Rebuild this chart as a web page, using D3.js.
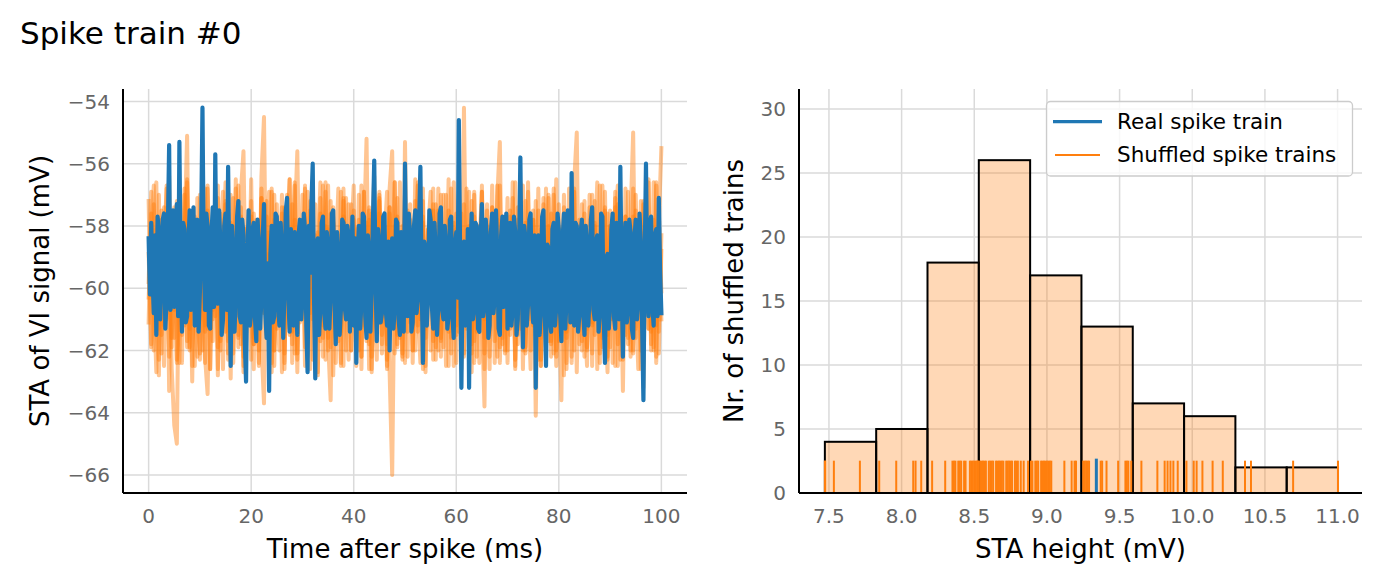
<!DOCTYPE html>
<html><head><meta charset="utf-8">
<script src="https://cdn.jsdelivr.net/npm/d3@7"></script>
<style>body{margin:0;background:#fff} svg{display:block} text{font-family:"DejaVu Sans",sans-serif}</style>
</head><body><svg id="c" width="1382" height="583"></svg>
<script>
// ---------------- data ----------------
const chartTitle = "Spike train #0";
const realStepMs = 0.25;
const shuffledStepMs = 0.5;
const realSTA = [
-58.4,-60.2,-57.9,-59.6,-60.8,-58.3,-61.5,-57.7,-58.2,-61.0,-59.9,-57.8,-57.6,-61.3,-60.4,-58.1,-55.4,-60.7,-59.8,-57.5,
-60.6,-58.2,-57.3,-60.9,-55.3,-59.4,-61.4,-57.9,-58.1,-61.1,-60.9,-58.6,-57.5,-60.7,-59.3,-57.4,-61.2,-58.8,-57.8,-61.4,
-60.1,-57.9,-54.2,-59.0,-60.7,-57.6,-58.0,-61.2,-61.3,-58.3,-57.4,-60.6,-55.7,-59.8,-60.5,-57.5,-58.6,-61.5,-61.0,-58.0,
-57.6,-60.7,-56.1,-59.5,-62.5,-58.0,-58.9,-61.4,-60.2,-57.7,-57.2,-60.9,-61.1,-57.8,-58.3,-61.7,-63.0,-59.1,-57.5,-61.2,
-60.8,-58.1,-57.9,-61.0,-61.7,-57.8,-58.6,-61.3,-60.3,-58.4,-57.3,-60.8,-61.6,-59.2,-63.3,-58.9,-58.0,-61.1,-60.9,-57.6,
-57.7,-60.5,-61.2,-57.9,-58.8,-61.6,-60.0,-57.5,-57.1,-60.3,-61.4,-58.1,-59.0,-61.2,-58.2,-60.6,-61.5,-58.3,-57.8,-61.0,
-60.4,-57.6,-58.1,-61.2,-62.7,-58.0,-59.5,-57.3,-56.0,-60.2,-62.9,-58.6,-58.4,-61.5,-60.6,-57.9,-57.7,-60.8,-61.3,-58.2,
-58.6,-61.3,-60.2,-57.6,-57.5,-60.4,-61.8,-58.2,-58.9,-61.5,-60.7,-57.8,-57.9,-60.6,-61.0,-58.0,-58.3,-61.4,-59.6,-57.7,
-61.2,-58.4,-62.4,-59.1,-58.0,-61.3,-60.5,-57.6,-57.7,-60.9,-61.6,-58.3,-58.8,-61.4,-60.1,-57.8,-55.9,-59.7,-61.7,-58.1,
-58.5,-61.1,-60.8,-57.7,-57.6,-60.7,-61.2,-58.5,-62.0,-59.6,-58.4,-61.3,-60.6,-57.8,-57.9,-61.0,-61.5,-58.2,-59.0,-61.4,
-56.0,-59.3,-60.9,-57.6,-58.3,-61.4,-61.1,-58.0,-57.5,-60.8,-60.4,-57.9,-56.1,-59.8,-62.4,-58.5,-58.7,-61.2,-60.2,-57.5,
-57.8,-60.6,-61.3,-57.9,-58.9,-61.5,-60.5,-57.6,-57.4,-60.7,-61.0,-58.0,-58.6,-61.3,-60.9,-57.8,-57.7,-60.9,-61.6,-58.6,
-58.2,-60.3,-54.6,-58.9,-63.2,-59.4,-58.5,-61.2,-60.9,-58.1,-63.2,-59.0,-57.6,-61.0,-60.7,-57.9,-58.0,-61.3,-61.4,-58.4,
-57.3,-60.9,-60.6,-57.8,-58.5,-61.6,-61.2,-58.2,-57.6,-60.8,-60.3,-57.5,-58.9,-61.3,-61.5,-58.3,-57.7,-60.6,-60.0,-57.6,
-61.3,-58.6,-57.9,-61.2,-60.7,-57.7,-58.2,-61.5,-61.0,-58.8,-55.8,-59.6,-61.9,-58.0,-58.4,-61.2,-60.5,-57.8,-57.6,-60.4,
-61.1,-58.3,-63.2,-59.3,-58.3,-61.5,-60.8,-57.7,-57.5,-60.6,-62.5,-58.6,-58.7,-61.0,-61.4,-58.1,-57.9,-61.2,-60.6,-57.6,
-58.1,-60.8,-61.7,-58.4,-57.6,-61.3,-60.4,-57.5,-58.8,-61.1,-56.3,-59.8,-61.2,-57.9,-58.0,-61.4,-60.9,-58.2,-57.8,-60.7,
-61.5,-58.0,-58.6,-61.2,-60.2,-57.8,-57.4,-60.7,-61.0,-58.5,-58.3,-61.4,-60.8,-57.6,-57.7,-60.9,-62.4,-59.0,-58.9,-61.3,
-60.5,-58.1,-57.6,-60.9,-61.3,-57.9,-58.4,-61.0,-56.1,-59.7,-62.2,-58.6,-57.9,-61.1,-60.7,-57.8,-58.2,-61.3,-61.6,-58.4,
-57.8,-61.0,-60.4,-57.6,-58.6,-61.2,-63.6,-59.0,-56.0,-59.9,-60.9,-57.9,-57.7,-60.6,-61.2,-58.3,-58.1,-60.9,-57.1,-59.4,
-60.8];
const shuffledSTA_A = [
-57.2,-61.8,-58.5,-56.6,-62.3,-59.1,-57.4,-61.0,-58.8,-62.6,
-64.4,-65.0,-57.9,-61.5,-58.3,-55.1,-61.9,-57.6,-60.7,-62.2,
-57.0,-60.3,-62.4,-56.8,-59.6,-61.7,-57.3,-62.8,-58.4,-56.9,
-61.4,-58.0,-62.9,-57.1,-60.5,-56.7,-61.8,-58.6,-62.1,-57.5,
-60.9,-62.6,-57.8,-61.2,-56.4,-54.5,-61.5,-58.2,-62.7,-57.0,
-60.6,-62.0,-57.4,-61.3,-58.7,-56.5,-62.4,-57.9,-55.6,-61.1,
-58.2,-62.5,-56.9,-60.8,-57.5,-61.9,-58.9,-56.6,-62.2,-58.0,
-61.6,-57.2,-62.8,-59.0,-56.8,-61.4,-57.7,-60.2,-62.3,-57.3,
-60.7,-58.1,-62.0,-56.7,-61.2,-57.9,-62.6,-58.5,-56.4,-61.0,
-57.6,-62.1,-58.4,-56.9,-62.7,-66.0,-58.8,-57.1,-61.6,-59.3,
-57.0,-62.2,-58.6,-61.0,-56.5,-60.6,-62.4,-57.7,-61.3,-58.1,
-62.0,-57.3,-60.4,-56.8,-61.7,-58.9,-62.5,-57.5,-60.8,-56.6,
-61.5,-57.8,-62.3,-54.2,-60.9,-58.0,-62.1,-57.0,-61.4,-58.6,
-56.9,-62.6,-58.3,-61.0,-57.4,-60.5,-62.2,-56.7,-61.6,-58.0,
-62.4,-57.5,-60.9,-56.6,-61.8,-58.7,-62.0,-57.2,-60.3,-62.6,
-57.8,-61.1,-56.8,-62.5,-58.4,-60.7,-57.1,-62.2,-59.0,-56.5,
-61.7,-58.1,-62.8,-57.6,-60.6,-56.9,-62.0,-58.5,-61.3,-57.3,
-60.8,-62.5,-57.0,-61.2,-58.8,-56.6,-62.1,-57.8,-60.4,-62.7,
-57.5,-61.0,-58.2,-56.7,-62.3,-57.9,-61.5,-58.6,-62.0,-56.8,
-61.3,-58.0,-62.6,-57.2,-60.7,-56.5,-61.8,-58.4,-62.2,-57.6,
-60.1];
const shuffledSTA_B = [
-59.8,-56.9,-62.0,-58.1,-61.3,-57.5,-62.5,-58.7,-56.4,-61.6,
-58.2,-62.3,-57.0,-60.6,-56.8,-61.9,-58.5,-63.0,-57.7,-60.9,
-62.1,-57.4,-61.2,-56.7,-62.6,-58.3,-60.4,-57.1,-62.0,-58.8,
-56.6,-61.7,-57.9,-62.4,-58.2,-60.8,-56.9,-55.6,-61.5,-58.0,
-62.3,-57.6,-60.7,-58.9,-61.8,-63.7,-57.2,-61.1,-56.8,-62.5,
-58.4,-60.2,-57.0,-62.1,-58.6,-56.5,-61.4,-57.8,-62.7,-58.1,
-60.6,-56.7,-62.2,-57.5,-61.0,-58.3,-62.8,-57.1,-60.3,-56.9,
-61.7,-63.6,-57.9,-61.2,-58.5,-62.4,-56.8,-60.9,-57.3,-62.0,
-58.7,-61.5,-57.0,-62.6,-58.2,-55.2,-61.8,-57.6,-60.5,-62.3,
-56.9,-61.1,-58.0,-62.5,-57.4,-60.8,-56.6,-61.9,-58.4,-62.2,
-55.3,-61.4,-57.8,-62.0,-58.6,-56.7,-61.0,-57.2,-62.7,-58.9,
-60.2,-56.8,-62.3,-57.5,-61.6,-58.1,-60.7,-56.5,-62.1,-58.3,
-61.2,-57.0,-62.6,-58.5,-60.4,-56.9,-61.8,-57.7,-62.2,-58.0,
-60.9,-63.8,-57.3,-61.5,-58.6,-62.4,-56.7,-60.6,-57.9,-62.0,
-58.2,-61.3,-56.6,-62.5,-57.8,-60.8,-58.4,-62.1,-56.9,-61.0,
-57.5,-64.1,-58.7,-61.6,-57.1,-62.3,-58.0,-60.5,-56.8,-62.0,
-58.5,-61.2,-57.4,-62.6,-58.1,-60.7,-56.6,-55.0,-61.8,-57.9,
-62.2,-58.3,-60.9,-57.0,-61.5,-58.8,-62.4,-56.7,-60.6,-57.6,
-61.9,-58.1,-62.5,-57.3,-60.8,-58.6,-61.1,-56.9,-62.2,-57.7,
-60.3,-62.6,-57.2,-61.4,-58.4,-56.6,-62.0,-57.8,-61.2,-58.2,
-61.0];
const shuffledSTA_C = [
-61.1,-57.6,-60.2,-62.7,-57.0,-61.5,-58.6,-56.8,-62.2,-58.3,
-60.7,-57.2,-62.4,-58.0,-61.2,-56.6,-62.0,-57.8,-60.5,-58.5,
-62.3,-56.9,-61.4,-57.5,-62.6,-58.2,-60.9,-56.7,-61.7,-58.7,
-57.3,-62.1,-58.4,-60.6,-56.8,-61.9,-57.7,-62.5,-58.1,-60.3,
-56.5,-61.6,-58.9,-62.0,-57.1,-60.8,-58.3,-56.9,-62.4,-57.8,
-61.3,-58.0,-62.7,-57.4,-60.5,-58.6,-61.8,-56.7,-62.1,-57.9,
-60.6,-56.8,-61.5,-58.2,-62.3,-57.3,-60.9,-58.5,-61.2,-56.6,
-62.0,-57.6,-60.4,-58.8,-61.7,-56.9,-62.5,-57.1,-61.0,-58.4,
-56.7,-61.9,-57.8,-62.2,-58.1,-60.7,-57.4,-62.6,-58.6,-61.3,
-57.2,-60.9,-58.3,-61.8,-56.8,-55.6,-62.1,-57.7,-60.5,-58.0,
-62.4,-57.5,-61.1,-58.9,-62.0,-56.6,-60.8,-57.9,-61.6,-58.2,
-56.9,-62.3,-57.3,-60.6,-58.5,-61.9,-57.0,-62.5,-58.1,-60.2,
-57.6,-61.4,-58.7,-62.1,-56.8,-60.9,-57.8,-61.7,-58.3,-62.4,
-56.7,-61.0,-57.5,-62.2,-58.6,-60.5,-57.1,-55.3,-61.8,-58.0,
-62.0,-57.7,-60.7,-58.4,-61.5,-56.6,-62.6,-57.9,-60.3,-58.8,
-61.2,-57.2,-62.3,-58.1,-60.9,-56.8,-61.7,-57.6,-62.1,-58.5,
-60.4,-63.6,-57.0,-61.6,-58.3,-62.4,-56.9,-60.8,-57.8,-62.0,
-58.6,-61.3,-57.4,-62.5,-58.0,-60.6,-56.7,-61.9,-57.5,-62.2,
-58.9,-60.5,-57.1,-61.8,-58.4,-62.3,-56.8,-61.0,-57.7,-55.0,
-61.6,-58.2,-62.0,-57.3,-60.7,-58.5,-61.4,-56.6,-62.4,-57.9,
-55.5];
const shuffledSTA_D = [
-58.9,-61.9,-57.3,-60.4,-62.8,-57.8,-61.2,-56.7,-63.3,-58.2,
-61.6,-57.5,-60.9,-62.4,-58.0,-56.5,-61.3,-58.7,-62.5,-57.1,
-60.6,-57.9,-62.2,-63.4,-58.4,-61.0,-56.9,-61.9,-57.6,-62.6,
-58.3,-60.8,-57.0,-62.1,-58.6,-61.5,-57.4,-62.7,-58.1,-60.3,
-57.2,-61.8,-58.5,-62.4,-56.8,-60.7,-57.7,-61.4,-58.8,-62.0,
-57.3,-60.9,-58.2,-62.6,-57.0,-61.3,-58.6,-56.6,-62.3,-57.8,
-61.0,-58.4,-62.1,-57.2,-60.5,-58.9,-62.7,-57.6,-61.6,-58.0,
-56.7,-61.9,-57.9,-62.4,-58.3,-60.6,-57.1,-62.0,-58.7,-61.2,
-57.5,-62.5,-58.1,-60.8,-56.9,-61.7,-57.8,-62.2,-58.5,-60.4,
-57.0,-61.5,-58.8,-62.6,-57.4,-60.9,-56.6,-61.8,-58.2,-62.3,
-57.7,-60.7,-58.4,-62.0,-57.2,-61.4,-58.9,-56.8,-62.5,-58.1,
-60.5,-57.5,-61.9,-58.6,-62.2,-57.0,-60.8,-58.3,-61.6,-57.9,
-62.4,-58.0,-60.6,-57.3,-61.3,-58.7,-62.7,-56.9,-61.0,-58.5,
-57.6,-62.1,-58.2,-60.9,-56.7,-61.7,-57.8,-62.4,-58.8,-60.3,
-57.1,-61.5,-58.4,-62.6,-57.4,-60.7,-58.0,-61.9,-56.6,-62.0,
-58.6,-60.5,-57.5,-62.3,-58.1,-61.2,-57.0,-61.8,-58.9,-62.5,
-57.3,-60.8,-58.5,-61.4,-56.8,-62.2,-57.9,-60.6,-58.2,-61.7,
-57.6,-62.0,-58.7,-61.1,-57.2,-62.6,-58.3,-60.9,-56.9,-61.5,
-58.0,-62.4,-57.4,-61.0,-58.6,-63.3,-57.7,-61.6,-58.1,-62.1,
-57.0,-60.7,-58.8,-63.2,-57.5,-61.3,-58.4,-62.0,-56.7,-61.4,
-58.3];
const shuffledSTA_E = [
-60.3,-58.6,-56.7,-61.4,-58.0,-62.1,-57.6,-60.8,-58.9,-61.9,
-57.4,-62.4,-58.3,-60.6,-57.0,-61.7,-58.8,-62.5,-57.8,-61.0,
-58.5,-62.0,-56.8,-61.3,-58.1,-60.7,-57.5,-62.6,-58.7,-61.1,
-57.2,-62.3,-58.4,-60.9,-56.5,-61.6,-57.9,-62.2,-58.6,-60.5,
-57.7,-61.8,-58.2,-62.5,-57.1,-60.8,-58.9,-61.2,-56.9,-62.0,
-58.3,-60.6,-57.6,-62.4,-58.0,-61.5,-57.3,-62.1,-58.8,-60.9,
-57.0,-61.9,-58.5,-62.6,-57.7,-60.4,-58.2,-61.7,-56.7,-62.3,
-58.1,-60.7,-57.4,-61.6,-58.9,-62.5,-57.2,-61.0,-58.4,-62.0,
-57.8,-60.5,-58.6,-62.2,-56.9,-61.4,-57.5,-62.7,-58.3,-60.9,
-57.1,-61.8,-58.7,-62.3,-57.6,-60.6,-58.0,-61.5,-56.6,-62.1,
-58.4,-60.8,-57.3,-62.4,-58.2,-61.2,-57.9,-62.6,-58.6,-60.4,
-57.5,-61.7,-58.8,-62.0,-57.0,-60.9,-58.3,-61.4,-56.8,-62.5,
-58.1,-60.6,-57.6,-62.2,-58.7,-61.0,-57.2,-62.4,-58.5,-60.7,
-56.9,-61.6,-58.0,-62.6,-57.4,-60.5,-58.9,-61.9,-57.7,-62.1,
-58.3,-60.8,-57.1,-62.3,-58.6,-61.3,-56.7,-62.0,-58.2,-60.6,
-57.8,-61.5,-58.4,-62.5,-57.3,-60.9,-58.8,-61.7,-57.0,-62.2,
-58.5,-60.4,-57.6,-62.4,-58.1,-61.1,-56.8,-62.7,-58.7,-60.7,
-57.2,-61.9,-58.3,-62.1,-57.9,-60.5,-58.6,-61.6,-57.4,-62.3,
-58.0,-61.0,-56.9,-62.5,-58.4,-60.8,-57.7,-61.8,-58.9,-62.0,
-57.5,-60.6,-58.2,-62.4,-57.1,-61.3,-58.6,-61.9,-56.6,-62.1,
-58.8];
const shuffledSeries = [shuffledSTA_A, shuffledSTA_B, shuffledSTA_C, shuffledSTA_D, shuffledSTA_E];
const leftXTicks = [0, 20, 40, 60, 80, 100];
const leftYTicks = [-54, -56, -58, -60, -62, -64, -66];

const shuffledHeights = [
7.472,7.474,7.534,7.713,
7.846,7.963,8.080,8.096,8.135,
8.21,8.30,8.35,8.36,8.37,8.39,8.40,8.41,8.43,8.44,8.47,8.48,8.49,8.50,8.51,8.52,8.525,8.528,
8.54,8.55,8.56,8.57,8.58,8.60,8.61,8.62,8.63,8.65,8.66,8.67,8.68,8.69,8.70,8.72,8.73,8.74,8.75,8.76,8.78,8.79,8.80,8.82,8.84,8.87,
8.89,8.90,8.92,8.93,8.94,8.96,8.97,8.98,8.99,9.00,9.01,9.02,9.03,9.12,9.17,9.19,9.20,
9.25,9.26,9.27,9.28,9.29,9.37,9.38,9.41,9.49,9.54,9.55,9.56,9.58,
9.65,9.76,9.81,9.83,9.85,9.87,9.90,
9.96,10.01,10.03,10.07,10.14,10.21,
10.363,10.404,
10.694,11.003];
const realHeight = 9.34;
const histBinCount = 10;
const rightXTicks = [7.5, 8.0, 8.5, 9.0, 9.5, 10.0, 10.5, 11.0];
const rightYTicks = [0, 5, 10, 15, 20, 25, 30];
const legendLabels = ["Real spike train", "Shuffled spike trains"];

// ---------------- drawing ----------------
const BLUE = "#1f77b4", ORANGE = "#ff7f0e", GRID = "#dadada", TICK = "#666666";
const svg = d3.select("#c");

svg.append("text").attr("x", 20).attr("y", 44).attr("font-size", 31).attr("fill", "#000").text(chartTitle);

function grid(g, x, y, xt, yt, x0, x1, y0, y1) {
  g.append("g").selectAll("line").data(xt).join("line")
    .attr("x1", d => x(d)).attr("x2", d => x(d)).attr("y1", y0).attr("y2", y1)
    .attr("stroke", GRID).attr("stroke-width", 1.5);
  g.append("g").selectAll("line").data(yt).join("line")
    .attr("x1", x0).attr("x2", x1).attr("y1", d => y(d)).attr("y2", d => y(d))
    .attr("stroke", GRID).attr("stroke-width", 1.5);
}
function spinesAndLabels(g, x, y, xt, yt, xfmt, yfmt, x0, x1, y0, y1, xLabel, yLabel, yLabelX) {
  g.append("line").attr("x1", x0).attr("x2", x0).attr("y1", y0).attr("y2", y1).attr("stroke", "#000").attr("stroke-width", 2);
  g.append("line").attr("x1", x0).attr("x2", x1).attr("y1", y1).attr("y2", y1).attr("stroke", "#000").attr("stroke-width", 2);
  g.append("g").selectAll("text").data(xt).join("text")
    .attr("x", d => x(d)).attr("y", 523).attr("text-anchor", "middle").attr("font-size", 20).attr("fill", TICK)
    .text(d => xfmt(d));
  g.append("g").selectAll("text").data(yt).join("text")
    .attr("x", x0 - 13).attr("y", d => y(d)).attr("dy", "0.36em").attr("text-anchor", "end").attr("font-size", 20).attr("fill", TICK)
    .text(d => yfmt(d));
  g.append("text").attr("x", (x0 + x1) / 2).attr("y", 558).attr("text-anchor", "middle").attr("font-size", 26).attr("fill", "#000").text(xLabel);
  g.append("text").attr("transform", `translate(${yLabelX},${(y0 + y1) / 2}) rotate(-90)`)
    .attr("text-anchor", "middle").attr("font-size", 26).attr("fill", "#000").text(yLabel);
}

// Left panel
const L = {x0: 123, x1: 687, y0: 89, y1: 493};
const xL = d3.scaleLinear().domain([-5, 105]).range([L.x0, L.x1]);
const yL = d3.scaleLinear().domain([-66.58, -53.6]).range([L.y1, L.y0]);
const gL = svg.append("g");
grid(gL, xL, yL, leftXTicks, leftYTicks, L.x0, L.x1, L.y0, L.y1);
const lineShuf = d3.line().x((d, i) => xL(i * shuffledStepMs)).y(d => yL(d));
const lineReal = d3.line().x((d, i) => xL(i * realStepMs)).y(d => yL(d));
gL.append("g").selectAll("path").data(shuffledSeries).join("path")
  .attr("d", lineShuf).attr("fill", "none").attr("stroke", ORANGE).attr("stroke-width", 4)
  .attr("stroke-linejoin", "round").attr("stroke-linecap", "square").attr("opacity", 0.45);
gL.append("path").attr("d", lineReal(realSTA)).attr("fill", "none").attr("stroke", BLUE)
  .attr("stroke-width", 4.2).attr("stroke-linejoin", "round").attr("stroke-linecap", "square");
spinesAndLabels(gL, xL, yL, leftXTicks, leftYTicks, d3.format("d"), d3.format("d"),
  L.x0, L.x1, L.y0, L.y1, "Time after spike (ms)", "STA of VI signal (mV)", 49);

// Right panel
const R = {x0: 799, x1: 1362, y0: 89, y1: 493};
const xR = d3.scaleLinear().domain([7.294, 11.168]).range([R.x0, R.x1]);
const yR = d3.scaleLinear().domain([0, 31.56]).range([R.y1, R.y0]);
const gR = svg.append("g");
grid(gR, xR, yR, rightXTicks, rightYTicks, R.x0, R.x1, R.y0, R.y1);
const ext = d3.extent(shuffledHeights);
const bw = (ext[1] - ext[0]) / histBinCount;
const thresholds = d3.range(1, histBinCount).map(k => ext[0] + k * bw);
const bins = d3.bin().domain(ext).thresholds(thresholds)(shuffledHeights);
gR.append("g").selectAll("rect").data(bins).join("rect")
  .attr("x", d => xR(d.x0)).attr("width", d => xR(d.x1) - xR(d.x0))
  .attr("y", d => yR(d.length)).attr("height", d => yR(0) - yR(d.length))
  .attr("fill", ORANGE).attr("fill-opacity", 0.3).attr("stroke", "#000").attr("stroke-width", 2);
const rugFrac = 0.08;
gR.append("g").selectAll("line").data(shuffledHeights).join("line")
  .attr("x1", d => xR(d)).attr("x2", d => xR(d)).attr("y1", R.y1).attr("y2", R.y1 - rugFrac * (R.y1 - R.y0))
  .attr("stroke", ORANGE).attr("stroke-width", 2);
gR.append("line").attr("x1", xR(realHeight)).attr("x2", xR(realHeight)).attr("y1", R.y1)
  .attr("y2", R.y1 - 0.085 * (R.y1 - R.y0)).attr("stroke", BLUE).attr("stroke-width", 3);
spinesAndLabels(gR, xR, yR, rightXTicks, rightYTicks, d3.format(".1f"), d3.format("d"),
  R.x0, R.x1, R.y0, R.y1, "STA height (mV)", "Nr. of shuffled trains", 743);

// Legend
const lg = svg.append("g");
lg.append("rect").attr("x", 1046.5).attr("y", 101.5).attr("width", 306).attr("height", 74.5).attr("rx", 4)
  .attr("fill", "#fff").attr("fill-opacity", 0.8).attr("stroke", "#cccccc").attr("stroke-width", 1.3);
lg.append("line").attr("x1", 1053).attr("x2", 1102).attr("y1", 121.7).attr("y2", 121.7).attr("stroke", BLUE).attr("stroke-width", 3.3);
lg.append("line").attr("x1", 1055).attr("x2", 1100).attr("y1", 155).attr("y2", 155).attr("stroke", ORANGE).attr("stroke-width", 1.8);
lg.selectAll("text").data(legendLabels).join("text")
  .attr("x", 1117).attr("y", (d, i) => i === 0 ? 129.3 : 162.3).attr("font-size", 21.5).attr("fill", "#000").text(d => d);
</script></body></html>
